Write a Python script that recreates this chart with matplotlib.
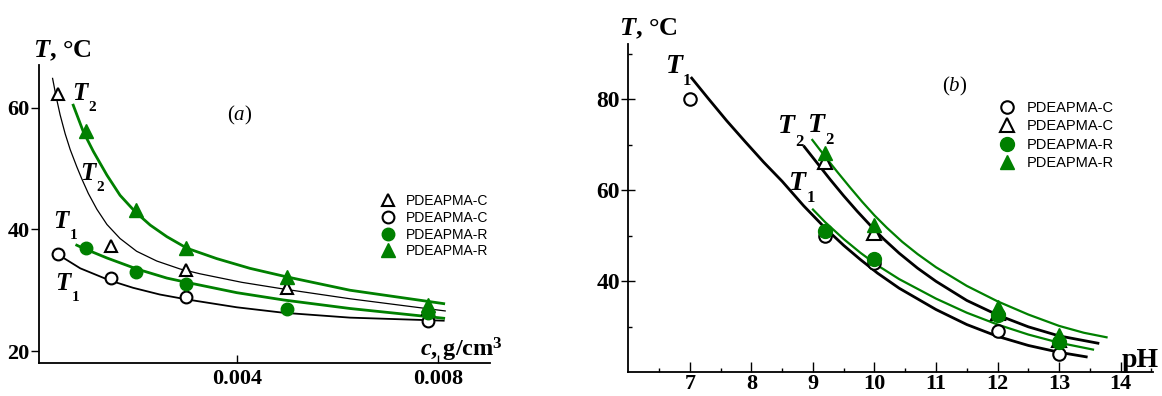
import numpy as np
import matplotlib
matplotlib.use('Agg')
import matplotlib.pyplot as plt
from matplotlib.ticker import FixedLocator, FormatStrFormatter

# ---------------- data, panel (a): T vs concentration ----------------
c_C_T2 = [0.00045, 0.0015, 0.003, 0.005, 0.0078]
T_C_T2 = [62.2, 37.2, 33.3, 30.3, 27.0]
c_C_T1 = [0.00045, 0.0015, 0.003, 0.0078]
T_C_T1 = [36.0, 32.0, 28.9, 24.9]
c_R = [0.001, 0.002, 0.003, 0.005, 0.0078]
T_R_T1 = [36.9, 33.0, 31.1, 27.0, 26.2]
T_R_T2 = [56.2, 43.1, 36.9, 32.2, 27.6]

# fitted curves
cc_C_T2 = [0.00034, 0.00041, 0.00049, 0.00059, 0.00069, 0.00082, 0.00092, 0.00105, 0.00122,
           0.00142, 0.00168, 0.00201, 0.00241, 0.00287, 0.00327, 0.0041, 0.00493, 0.00625, 0.00814]
cT_C_T2 = [64.8, 61.8, 58.8, 55.7, 53.1, 50.3, 48.3, 45.9, 43.3,
           40.8, 38.5, 36.4, 34.8, 33.5, 32.7, 31.3, 30.2, 28.6, 26.6]
cc_C_T1 = [0.00052, 0.00089, 0.00148, 0.00194, 0.00247, 0.003, 0.004, 0.00493, 0.00625, 0.00811]
cT_C_T1 = [35.5, 33.6, 31.6, 30.4, 29.3, 28.5, 27.2, 26.3, 25.5, 25.0]
cc_R_T2 = [0.00075, 0.00095, 0.00115, 0.00142, 0.00168, 0.00198, 0.00228, 0.00261, 0.00301,
           0.0036, 0.00426, 0.00499, 0.00625, 0.00811]
cT_R_T2 = [60.4, 56.05, 52.8, 48.9, 45.6, 42.9, 40.7, 38.8, 36.9,
           35.2, 33.6, 32.2, 30.0, 27.8]
cc_R_T1 = [0.00082, 0.00095, 0.00142, 0.00201, 0.00261, 0.003, 0.004, 0.00493, 0.00625, 0.00811]
cT_R_T1 = [37.4, 36.9, 35.3, 33.5, 32.0, 31.3, 29.6, 28.4, 27.0, 25.4]

# ---------------- data, panel (b): T vs pH ----------------
pH_C_T1 = [7, 9.2, 10, 12, 13]
T_C_T1b = [80.0, 50.0, 44.0, 29.0, 24.0]
pH_C_T2 = [9.2, 10, 12, 13]
T_C_T2b = [66.3, 50.7, 33.0, 27.0]
pH_R = [9.2, 10, 12, 13]
T_R_T1b = [51.0, 45.0, 32.5, 26.6]
T_R_T2b = [68.3, 52.5, 34.3, 28.1]

pc_C_T1 = [7.03, 7.3, 7.6, 7.9, 8.2, 8.5, 8.85, 9.2, 9.5, 9.77, 10.05, 10.4, 11.0, 11.5,
           12.0, 12.5, 13.0, 13.44]
pT_C_T1 = [84.7, 80.2, 75.3, 70.7, 66.2, 62.0, 56.6, 51.7, 47.9, 44.8, 41.8, 38.5, 33.8, 30.5,
           27.9, 25.9, 24.4, 23.4]
pc_R_T1 = [9.0, 9.2, 9.5, 9.77, 10.05, 10.4, 11.0, 11.5, 12.0, 12.5, 13.0, 13.55]
pT_R_T1 = [55.8, 53.0, 49.3, 46.3, 43.5, 40.5, 36.2, 33.1, 30.5, 28.3, 26.5, 25.0]
pc_C_T2 = [8.86, 9.07, 9.28, 9.5, 9.72, 9.94, 10.15, 10.4, 10.7, 11.0, 11.5, 12.0, 12.5, 13.0, 13.63]
pT_C_T2 = [69.6, 66.0, 62.4, 58.8, 55.4, 52.2, 49.3, 46.2, 42.9, 40.0, 35.8, 32.6, 30.0, 28.0, 26.4]
pc_R_T2 = [8.99, 9.2, 9.4, 9.6, 9.8, 10.0, 10.2, 10.45, 10.7, 11.0, 11.5, 12.0, 12.5, 13.0, 13.4, 13.77]
pT_R_T2 = [71.1, 67.4, 64.0, 60.7, 57.5, 54.5, 51.8, 48.7, 46.0, 43.1, 39.0, 35.6, 32.7, 30.2, 28.7, 27.7]

GREEN = '#008000'
serif = 'Liberation Serif'
plt.rcParams['font.family'] = serif
plt.rcParams['mathtext.fontset'] = 'custom'
plt.rcParams['mathtext.it'] = 'Liberation Serif:italic:bold'
plt.rcParams['mathtext.rm'] = 'Liberation Serif:bold'
plt.rcParams['mathtext.bf'] = 'Liberation Serif:bold'
plt.rcParams['mathtext.sf'] = 'Liberation Serif:italic'

W, H = 1162, 396
fig = plt.figure(figsize=(W / 100, H / 100), dpi=100)


def px_axes(l, t, r, b):
    return fig.add_axes([l / W, 1 - b / H, (r - l) / W, (b - t) / H])


def tlabel(ax, x, y, sub, size, subsize):
    ax.text(x, y, r'$T$', fontsize=size, ha='left', va='baseline')
    ax.annotate(sub, xy=(x, y), xytext=(size * 0.66, -size * 0.45), textcoords='offset points',
                fontsize=subsize, fontweight='bold', ha='left', va='baseline')


def style(ax):
    for s in ['top', 'right']:
        ax.spines[s].set_visible(False)
    for s in ['left', 'bottom']:
        ax.spines[s].set_linewidth(1.3)


def fig_text(px, py, s, **kw):
    fig.text(px / W, 1 - py / H, s, **kw)


# ======================= panel (a) =======================
ax1 = px_axes(39.3, 65, 490, 363.3)
style(ax1)
ax1.plot(cc_C_T2, cT_C_T2, color='black', lw=0.9)
ax1.plot(cc_C_T1, cT_C_T1, color='black', lw=1.3)
ax1.plot(cc_R_T2, cT_R_T2, color=GREEN, lw=2)
ax1.plot(cc_R_T1, cT_R_T1, color=GREEN, lw=2)

h_ot, = ax1.plot(c_C_T2, T_C_T2, '^', ms=9, mfc='white', mec='black', mew=1.5, label='PDEAPMA-C')
h_oc, = ax1.plot(c_C_T1, T_C_T1, 'o', ms=8.5, mfc='white', mec='black', mew=1.5, label='PDEAPMA-C')
h_gc, = ax1.plot(c_R, T_R_T1, 'o', ms=9, color=GREEN, label='PDEAPMA-R')
h_gt, = ax1.plot(c_R, T_R_T2, '^', ms=10, color=GREEN, label='PDEAPMA-R')

ax1.set_xlim(0.000076, 0.00903)
ax1.set_ylim(18, 67)
ax1.xaxis.set_major_locator(FixedLocator([0.004, 0.008]))
ax1.xaxis.set_major_formatter(FormatStrFormatter('%.3f'))
ax1.yaxis.set_major_locator(FixedLocator([20, 40, 60]))
ax1.tick_params(axis='x', direction='in', length=6, width=1, pad=4, labelsize=16)
ax1.tick_params(axis='y', direction='out', length=6, width=1, pad=1, labelsize=16)
for lab in ax1.get_xticklabels() + ax1.get_yticklabels():
    lab.set_fontweight('bold')

leg1 = fig.legend(handles=[h_ot, h_oc, h_gc, h_gt], loc='upper left',
                  bbox_to_anchor=(381 / W, 1 - 194 / H), frameon=False, borderpad=0,
                  borderaxespad=0, handlelength=1.0, handletextpad=0.8, labelspacing=0.2,
                  prop={'family': 'Liberation Sans', 'size': 10})

tlabel(ax1, 0.000726, 61.3, '2', 18, 11)
tlabel(ax1, 0.000885, 48.1, '2', 18, 11)
tlabel(ax1, 0.000348, 40.2, '1', 18, 11)
tlabel(ax1, 0.000388, 30.0, '1', 18, 11)

fig_text(240, 115, r'($\mathsf{a}$)', fontsize=15, ha='center', va='center')
fig_text(33, 57, r'$T$, °C', fontsize=19, fontweight='bold', ha='left', va='baseline')
fig_text(420, 357, r'$c$, g/cm$^{3}$', fontsize=17.5, fontweight='bold', ha='left', va='baseline')

# ======================= panel (b) =======================
ax2 = px_axes(628.3, 44, 1152.7, 372.3)
style(ax2)
ax2.plot(pc_C_T1, pT_C_T1, color='black', lw=2)
ax2.plot(pc_C_T2, pT_C_T2, color='black', lw=2)
ax2.plot(pc_R_T1, pT_R_T1, color=GREEN, lw=1.6)
ax2.plot(pc_R_T2, pT_R_T2, color=GREEN, lw=1.6)

b_oc, = ax2.plot(pH_C_T1, T_C_T1b, 'o', ms=9, mfc='white', mec='black', mew=1.5, label='PDEAPMA-C')
b_ot, = ax2.plot(pH_C_T2, T_C_T2b, '^', ms=9.5, mfc='white', mec='black', mew=1.5, label='PDEAPMA-C')
b_gc, = ax2.plot(pH_R, T_R_T1b, 'o', ms=10, color=GREEN, label='PDEAPMA-R')
b_gt, = ax2.plot(pH_R, T_R_T2b, '^', ms=10.5, color=GREEN, label='PDEAPMA-R')

ax2.set_xlim(6, 14.52)
ax2.set_ylim(20, 92.2)
ax2.xaxis.set_major_locator(FixedLocator(list(range(7, 15))))
ax2.xaxis.set_minor_locator(FixedLocator(list(np.arange(6.5, 14.6, 1.0))))
ax2.yaxis.set_major_locator(FixedLocator([40, 60, 80]))
ax2.yaxis.set_minor_locator(FixedLocator([30, 50, 70, 90]))
ax2.tick_params(axis='x', which='major', direction='in', length=7, width=1, pad=1, labelsize=16)
ax2.tick_params(axis='x', which='minor', direction='in', length=3, width=1)
ax2.tick_params(axis='y', which='major', direction='inout', length=10, width=1, pad=1, labelsize=17)
ax2.tick_params(axis='y', which='minor', direction='in', length=3, width=1)
for lab in ax2.get_xticklabels() + ax2.get_yticklabels():
    lab.set_fontweight('bold')

leg2 = fig.legend(handles=[b_oc, b_ot, b_gc, b_gt], loc='upper left',
                  bbox_to_anchor=(1000 / W, 1 - 101 / H), frameon=False, borderpad=0,
                  borderaxespad=0, handlelength=1.0, handletextpad=0.8, labelspacing=0.3,
                  prop={'family': 'Liberation Sans', 'size': 10.5})

tlabel(ax2, 6.59, 85.9, '1', 20, 12)
tlabel(ax2, 8.42, 72.6, '2', 20, 12)
tlabel(ax2, 8.91, 72.9, '2', 20, 12)
tlabel(ax2, 8.60, 60.1, '1', 20, 12)

fig_text(955, 86, r'($\mathsf{b}$)', fontsize=15, ha='center', va='center')
fig_text(619, 35, r'$T$, °C', fontsize=19, fontweight='bold', ha='left', va='baseline')
fig_text(1122, 367, 'pH', fontsize=20, fontweight='bold', ha='left', va='baseline')

fig.savefig('out.png', dpi=100)
